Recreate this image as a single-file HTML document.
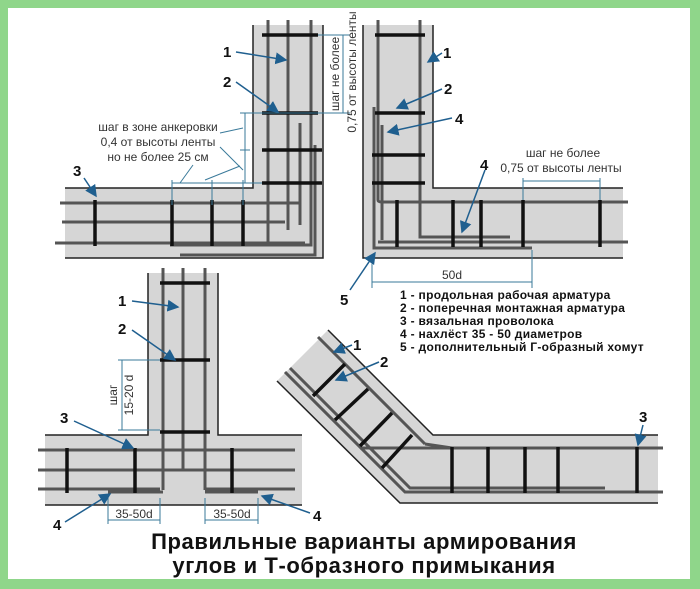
<!DOCTYPE html><html><head><meta charset="utf-8"><style>
html,body{margin:0;padding:0;background:#8fd68a}
svg{display:block}
text{font-family:"Liberation Sans",sans-serif}
</style></head><body>
<svg width="700" height="589" viewBox="0 0 700 589" xmlns="http://www.w3.org/2000/svg">
<defs><marker id="a" markerWidth="8" markerHeight="8" refX="7" refY="4" orient="auto"><path d="M0,0 L8,4 L0,8 z" fill="#1f5f8f"/></marker></defs>
<rect x="0" y="0" width="700" height="589" fill="#8fd68a"/>
<rect x="8" y="8" width="682" height="571" fill="#fff"/>

<!-- TOP LEFT L -->
<path d="M253,25 H323 V258 H65 V188 H253 Z" fill="#d6d6d6"/>
<path d="M253,25 V188 H65 M323,25 V258 H65" fill="none" stroke="#222" stroke-width="1.5"/>
<g stroke="#555" stroke-width="3" fill="none">
<path d="M268,20 V243"/><path d="M288,20 V230"/><path d="M311,20 V245 H170"/>
<path d="M60,203 H300 V225"/><path d="M62,222 H285"/><path d="M55,243 H305"/>
<path d="M300,123 V210"/><path d="M315,145 V255 H180"/>
</g>
<g stroke="#111" stroke-width="3.5"><path d="M262,35 H318"/><path d="M262,113 H318"/><path d="M262,150 H322"/><path d="M262,183 H322"/>
<path d="M95,200 V246"/><path d="M172,200 V246"/><path d="M212,200 V246"/><path d="M243,200 V246"/></g>
<g stroke="#3a7a9a" stroke-width="1" fill="none"><path d="M245,113 V183 M172,183 H245 M172,180 V205 M212,180 V205 M243,180 V205 M240,113 H330 M240,150 H250 M240,183 H262 M343,35 V113 M318,35 H350 M318,113 H350"/>
<path d="M220,133 L243,128 M220,147 L243,170 M193,165 L180,183 M240,166 L205,180"/></g>
<text x="158" y="131" font-size="12" text-anchor="middle" fill="#333">шаг в зоне анкеровки</text>
<text x="158" y="146" font-size="12" text-anchor="middle" fill="#333">0,4 от высоты ленты</text>
<text x="158" y="161" font-size="12" text-anchor="middle" fill="#333">но не более 25 см</text>
<text transform="translate(339,74) rotate(-90)" font-size="12" text-anchor="middle" fill="#333">шаг не более</text>
<text transform="translate(356,72) rotate(-90)" font-size="12" text-anchor="middle" fill="#333">0,75 от высоты ленты</text>
<g font-size="15" font-weight="bold" fill="#111"><text x="223" y="57">1</text><text x="223" y="87">2</text><text x="73" y="176">3</text></g>
<g stroke="#1f5f8f" stroke-width="1.5" marker-end="url(#a)"><path d="M236,52 L286,60"/><path d="M236,82 L278,112"/><path d="M84,178 L96,196"/></g>

<!-- TOP RIGHT L -->
<path d="M363,25 H433 V188 H623 V258 H363 Z" fill="#d6d6d6"/>
<path d="M363,25 V258 H623 M433,25 V188 H623" fill="none" stroke="#222" stroke-width="1.5"/>
<g stroke="#555" stroke-width="3" fill="none">
<path d="M378,20 V200 Q378,202 382,202 H628"/><path d="M420,20 V237 H510"/><path d="M378,242 H628"/>
<path d="M374,107 V248 H532"/><path d="M382,125 V240"/>
</g>
<g stroke="#111" stroke-width="3.5"><path d="M375,35 H425"/><path d="M375,113 H425"/><path d="M372,155 H425"/><path d="M372,183 H425"/>
<path d="M397,200 V247"/><path d="M453,200 V247"/><path d="M481,200 V247"/><path d="M523,200 V247"/><path d="M600,200 V247"/></g>
<g stroke="#3a7a9a" stroke-width="1" fill="none"><path d="M372,282 H532 M372,255 V288 M532,250 V288 M523,181 H600 M523,178 V200 M600,178 V200"/></g>
<text x="452" y="279" font-size="12" text-anchor="middle" fill="#333">50d</text>
<text x="563" y="157" font-size="12" text-anchor="middle" fill="#333">шаг не более</text>
<text x="561" y="172" font-size="12" text-anchor="middle" fill="#333">0,75 от высоты ленты</text>
<g font-size="15" font-weight="bold" fill="#111"><text x="443" y="58">1</text><text x="444" y="94">2</text><text x="455" y="124">4</text><text x="480" y="170">4</text><text x="340" y="305">5</text></g>
<g stroke="#1f5f8f" stroke-width="1.5" marker-end="url(#a)"><path d="M442,53 L428,62"/><path d="M442,89 L397,108"/><path d="M452,118 L388,132"/><path d="M485,170 L462,232"/><path d="M350,290 L375,253"/></g>

<!-- Legend -->
<g font-size="12" font-weight="bold" fill="#111" letter-spacing="0.3">
<text x="400" y="299">1 - продольная рабочая арматура</text>
<text x="400" y="312">2 - поперечная монтажная арматура</text>
<text x="400" y="325">3 - вязальная проволока</text>
<text x="400" y="338">4 - нахлёст 35 - 50 диаметров</text>
<text x="400" y="351">5 - дополнительный Г-образный хомут</text></g>

<!-- BOTTOM LEFT T -->
<path d="M148,273 H218 V435 H302 V505 H45 V435 H148 Z" fill="#d6d6d6"/>
<path d="M148,273 V435 H45 M218,273 V435 H302 M45,505 H302" fill="none" stroke="#222" stroke-width="1.5"/>
<g stroke="#555" stroke-width="3" fill="none">
<path d="M163,268 V490"/><path d="M183,268 V470 H240"/><path d="M205,268 V490"/>
<path d="M38,450 H295"/><path d="M38,470 H295"/><path d="M38,489 H160"/><path d="M205,489 H295"/>
<path d="M108,492 H163"/><path d="M205,492 H258"/>
</g>
<g stroke="#111" stroke-width="3.5"><path d="M160,283 H210"/><path d="M160,360 H210"/><path d="M160,432 H210"/>
<path d="M67,448 V493"/><path d="M135,448 V493"/><path d="M232,448 V493"/></g>
<g stroke="#3a7a9a" stroke-width="1" fill="none"><path d="M122,360 V430 M118,360 H160 M118,430 H160 M108,520 H160 M108,498 V524 M160,498 V524 M205,520 H258 M205,498 V524 M258,498 V524"/></g>
<text transform="translate(117,395) rotate(-90)" font-size="12" text-anchor="middle" fill="#333">шаг</text>
<text transform="translate(133,395) rotate(-90)" font-size="12" text-anchor="middle" fill="#333">15-20 d</text>
<text x="134" y="518" font-size="12" text-anchor="middle" fill="#333">35-50d</text>
<text x="232" y="518" font-size="12" text-anchor="middle" fill="#333">35-50d</text>
<g font-size="15" font-weight="bold" fill="#111"><text x="118" y="306">1</text><text x="118" y="334">2</text><text x="60" y="423">3</text><text x="53" y="530">4</text><text x="313" y="521">4</text></g>
<g stroke="#1f5f8f" stroke-width="1.5" marker-end="url(#a)"><path d="M132,301 L178,307"/><path d="M132,330 L175,360"/><path d="M74,421 L133,448"/><path d="M65,522 L110,494"/><path d="M310,513 L262,496"/></g>

<!-- BOTTOM RIGHT bent -->
<path d="M328,330 L433,435 H658 V503 H400 L277,381 Z" fill="#d6d6d6"/>
<path d="M328,330 L433,435 H658 M277,381 L400,503 H658" fill="none" stroke="#222" stroke-width="1.5"/>
<g stroke="#555" stroke-width="3" fill="none">
<path d="M318,337 L425,444"/><path d="M360,448 H663"/>
<path d="M285,372 L405,492 H663"/><path d="M290,368 L410,488 H605"/>
<path d="M425,444 L452,448"/>
</g>
<g stroke="#111" stroke-width="3.5" fill="none">
<path d="M345,364 L313,396"/><path d="M368,389 L335,420"/><path d="M392,413 L360,446"/><path d="M412,435 L382,468"/>
<path d="M452,447 V493"/><path d="M488,447 V493"/><path d="M525,447 V493"/><path d="M558,447 V493"/><path d="M637,447 V493"/></g>
<g font-size="15" font-weight="bold" fill="#111"><text x="353" y="350">1</text><text x="380" y="367">2</text><text x="639" y="422">3</text></g>
<g stroke="#1f5f8f" stroke-width="1.5" marker-end="url(#a)"><path d="M352,345 L334,352"/><path d="M379,362 L336,380"/><path d="M643,425 L638,445"/></g>

<!-- Title -->
<text x="364" y="549" font-size="22" font-weight="bold" text-anchor="middle" fill="#111" letter-spacing="0.6">Правильные варианты армирования</text>
<text x="364" y="573" font-size="22" font-weight="bold" text-anchor="middle" fill="#111" letter-spacing="0.6">углов и Т-образного примыкания</text>
</svg>
</body></html>
